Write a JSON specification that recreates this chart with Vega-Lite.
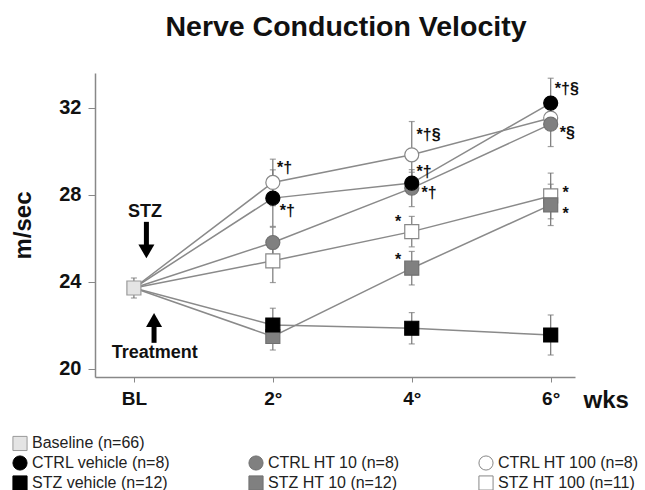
{
  "$schema": "https://vega.github.io/schema/vega-lite/v6.json",
  "autosize": "none",
  "width": 480,
  "height": 304,
  "padding": {"left": 95, "top": 73, "right": 70, "bottom": 113},
  "background": "white",
  "config": {
    "font": "Liberation Sans",
    "view": {"stroke": null}
  },
  "title": {
    "text": "Nerve Conduction Velocity",
    "font": "Liberation Sans",
    "fontSize": 28.5,
    "fontWeight": "bold",
    "color": "#111",
    "anchor": "middle",
    "dx": 11,
    "baseline": "bottom",
    "offset": 3
  },
  "datasets": {
    "pts": [
      {"group": "CTRL HT 100 (n=8)", "wk": 0, "v": 23.72},
      {"group": "CTRL HT 100 (n=8)", "wk": 2, "v": 28.57, "lo": 27.5, "hi": 29.64},
      {"group": "CTRL HT 100 (n=8)", "wk": 4, "v": 29.84, "lo": 28.31, "hi": 31.37},
      {"group": "CTRL HT 100 (n=8)", "wk": 6, "v": 31.53, "lo": 31.03, "hi": 32.03},
      {"group": "STZ HT 100 (n=11)", "wk": 0, "v": 23.72},
      {"group": "STZ HT 100 (n=11)", "wk": 2, "v": 24.97, "lo": 23.97, "hi": 25.97},
      {"group": "STZ HT 100 (n=11)", "wk": 4, "v": 26.31, "lo": 25.61, "hi": 27.01},
      {"group": "STZ HT 100 (n=11)", "wk": 6, "v": 27.95, "lo": 26.9, "hi": 29.0},
      {"group": "CTRL HT 10 (n=8)", "wk": 0, "v": 23.72},
      {"group": "CTRL HT 10 (n=8)", "wk": 2, "v": 25.81, "lo": 25.11, "hi": 26.51},
      {"group": "CTRL HT 10 (n=8)", "wk": 4, "v": 28.31, "lo": 27.46, "hi": 29.16},
      {"group": "CTRL HT 10 (n=8)", "wk": 6, "v": 31.25, "lo": 30.22, "hi": 32.28},
      {"group": "STZ HT 10 (n=12)", "wk": 0, "v": 23.72},
      {"group": "STZ HT 10 (n=12)", "wk": 2, "v": 21.49, "lo": 20.87, "hi": 22.11},
      {"group": "STZ HT 10 (n=12)", "wk": 4, "v": 24.63, "lo": 23.86, "hi": 25.4},
      {"group": "STZ HT 10 (n=12)", "wk": 6, "v": 27.54, "lo": 26.59, "hi": 28.49},
      {"group": "CTRL vehicle (n=8)", "wk": 0, "v": 23.72},
      {"group": "CTRL vehicle (n=8)", "wk": 2, "v": 27.85, "lo": 26.55, "hi": 29.15},
      {"group": "CTRL vehicle (n=8)", "wk": 4, "v": 28.54, "lo": 28.04, "hi": 29.04},
      {"group": "CTRL vehicle (n=8)", "wk": 6, "v": 32.22, "lo": 31.08, "hi": 33.36},
      {"group": "STZ vehicle (n=12)", "wk": 0, "v": 23.72},
      {"group": "STZ vehicle (n=12)", "wk": 2, "v": 22.02, "lo": 21.25, "hi": 22.79},
      {"group": "STZ vehicle (n=12)", "wk": 4, "v": 21.87, "lo": 21.15, "hi": 22.59},
      {"group": "STZ vehicle (n=12)", "wk": 6, "v": 21.56, "lo": 20.64, "hi": 22.48},
      {"group": "Baseline (n=66)", "wk": 0, "v": 23.72, "lo": 23.26, "hi": 24.18}
    ],
    "notes": [
      {"label": "*†", "wk": 2.06, "v": 29.24},
      {"label": "*†", "wk": 2.1, "v": 27.26},
      {"label": "*†§", "wk": 4.07, "v": 30.76},
      {"label": "*†", "wk": 4.07, "v": 29.06},
      {"label": "*†", "wk": 4.14, "v": 28.09},
      {"label": "*", "wk": 3.76, "v": 26.76},
      {"label": "*", "wk": 3.76, "v": 25.01},
      {"label": "*†§", "wk": 6.06, "v": 32.87},
      {"label": "*§", "wk": 6.13, "v": 30.85},
      {"label": "*", "wk": 6.17, "v": 28.09},
      {"label": "*", "wk": 6.17, "v": 27.13}
    ],
    "arrows": [
      {"name": "STZ", "dir": "down", "wk": 0.18, "v1": 26.76, "v2": 25.66, "head": 25.4, "tx": 0.16, "ty": 27.22},
      {"name": "Treatment", "dir": "up", "wk": 0.29, "v1": 21.2, "v2": 21.98, "head": 22.25, "tx": 0.3, "ty": 20.74}
    ]
  },
  "encoding": {
    "x": {
      "field": "wk", "type": "quantitative",
      "scale": {"domain": [-0.56, 6.35], "nice": false, "zero": false},
      "axis": {
        "values": [0, 2, 4, 6],
        "labelExpr": "datum.value == 0 ? 'BL' : datum.value + '°'",
        "labelFontSize": 19, "labelFontWeight": "bold", "labelColor": "#111",
        "labelFont": "Liberation Sans",
        "tickSize": 5, "tickColor": "#888", "domainColor": "#888", "domainWidth": 1.5,
        "labelPadding": 7, "grid": false,
        "title": "wks", "titleFontSize": 24, "titleFontWeight": "bold", "titleColor": "#111",
        "titleFont": "Liberation Sans",
        "titleX": 488, "titleY": 30, "titleAlign": "left", "titleBaseline": "alphabetic"
      }
    },
    "y": {
      "field": "v", "type": "quantitative",
      "scale": {"domain": [19.63, 33.6], "nice": false, "zero": false},
      "axis": {
        "values": [20, 24, 28, 32],
        "labelFontSize": 20, "labelFontWeight": "bold", "labelColor": "#111",
        "labelFont": "Liberation Sans",
        "tickSize": 7, "tickColor": "#888", "domainColor": "#888", "domainWidth": 1.5,
        "labelPadding": 7, "grid": false,
        "title": "m/sec", "titleFontSize": 24, "titleFontWeight": "bold", "titleColor": "#111",
        "titleFont": "Liberation Sans", "titlePadding": 23
      }
    }
  },
  "layer": [
    {
      "data": {"name": "pts"},
      "transform": [{"filter": "isValid(datum.lo)"}],
      "mark": {"type": "rule", "color": "#777", "strokeWidth": 1.2},
      "encoding": {"y": {"field": "lo", "type": "quantitative"}, "y2": {"field": "hi"}}
    },
    {
      "data": {"name": "pts"},
      "transform": [{"filter": "isValid(datum.lo)"}],
      "mark": {"type": "tick", "orient": "horizontal", "color": "#777", "size": 6, "thickness": 1.2},
      "encoding": {"y": {"field": "lo", "type": "quantitative"}}
    },
    {
      "data": {"name": "pts"},
      "transform": [{"filter": "isValid(datum.lo)"}],
      "mark": {"type": "tick", "orient": "horizontal", "color": "#777", "size": 6, "thickness": 1.2},
      "encoding": {"y": {"field": "hi", "type": "quantitative"}}
    },
    {
      "data": {"name": "pts"},
      "transform": [{"filter": "datum.group != 'Baseline (n=66)'"}],
      "mark": {"type": "line", "color": "#8a8a8a", "strokeWidth": 1.5},
      "encoding": {"detail": {"field": "group", "type": "nominal"}, "order": {"field": "wk", "type": "quantitative"}}
    },
    {
      "data": {"name": "pts"},
      "transform": [{"filter": "datum.wk != 0 || datum.group == 'Baseline (n=66)'"}],
      "mark": {"type": "point", "size": 196, "strokeWidth": 1.2, "opacity": 1, "filled": true},
      "encoding": {
        "shape": {
          "field": "group", "type": "nominal",
          "scale": {
            "domain": ["Baseline (n=66)", "CTRL vehicle (n=8)", "STZ vehicle (n=12)", " ", "CTRL HT 10 (n=8)", "STZ HT 10 (n=12)", "  ", "CTRL HT 100 (n=8)", "STZ HT 100 (n=11)"],
            "range": ["square", "circle", "square", "square", "circle", "square", "square", "circle", "square"]
          },
          "legend": {
            "orient": "none", "legendX": -83, "legendY": 362, "title": null, "columns": 3,
            "symbolSize": 200, "symbolStrokeWidth": 1, "labelFontSize": 16, "labelFont": "Liberation Sans",
            "labelColor": "#222", "rowPadding": 0, "columnPadding": 75, "labelOffset": 4, "padding": 0,
            "labelLimit": 300
          }
        },
        "fill": {
          "field": "group", "type": "nominal",
          "scale": {
            "domain": ["Baseline (n=66)", "CTRL vehicle (n=8)", "STZ vehicle (n=12)", " ", "CTRL HT 10 (n=8)", "STZ HT 10 (n=12)", "  ", "CTRL HT 100 (n=8)", "STZ HT 100 (n=11)"],
            "range": ["#e4e4e4", "#000000", "#000000", "transparent", "#808080", "#808080", "transparent", "#ffffff", "#ffffff"]
          },
          "legend": {
            "orient": "none", "legendX": -83, "legendY": 362, "title": null, "columns": 3,
            "symbolSize": 200, "symbolStrokeWidth": 1, "labelFontSize": 16, "labelFont": "Liberation Sans",
            "labelColor": "#222", "rowPadding": 0, "columnPadding": 75, "labelOffset": 4, "padding": 0,
            "labelLimit": 300
          }
        },
        "stroke": {
          "field": "group", "type": "nominal",
          "scale": {
            "domain": ["Baseline (n=66)", "CTRL vehicle (n=8)", "STZ vehicle (n=12)", " ", "CTRL HT 10 (n=8)", "STZ HT 10 (n=12)", "  ", "CTRL HT 100 (n=8)", "STZ HT 100 (n=11)"],
            "range": ["#999999", "#000000", "#000000", "transparent", "#707070", "#707070", "transparent", "#888888", "#888888"]
          },
          "legend": {
            "orient": "none", "legendX": -83, "legendY": 362, "title": null, "columns": 3,
            "symbolSize": 200, "symbolStrokeWidth": 1, "labelFontSize": 16, "labelFont": "Liberation Sans",
            "labelColor": "#222", "rowPadding": 0, "columnPadding": 75, "labelOffset": 4, "padding": 0,
            "labelLimit": 300
          }
        }
      }
    },
    {
      "data": {"name": "notes"},
      "mark": {"type": "text", "align": "left", "baseline": "middle", "fontSize": 16, "fontWeight": "bold", "color": "#111", "font": "Liberation Sans"},
      "encoding": {"text": {"field": "label", "type": "nominal"}}
    },
    {
      "data": {"name": "arrows"},
      "mark": {"type": "rule", "color": "#000", "strokeWidth": 5},
      "encoding": {"y": {"field": "v1", "type": "quantitative"}, "y2": {"field": "v2"}}
    },
    {
      "data": {"name": "arrows"},
      "transform": [{"filter": "datum.dir == 'down'"}],
      "mark": {"type": "point", "shape": "triangle-down", "size": 256, "filled": true, "color": "#000", "opacity": 1},
      "encoding": {"y": {"field": "head", "type": "quantitative"}}
    },
    {
      "data": {"name": "arrows"},
      "transform": [{"filter": "datum.dir == 'up'"}],
      "mark": {"type": "point", "shape": "triangle-up", "size": 256, "filled": true, "color": "#000", "opacity": 1},
      "encoding": {"y": {"field": "head", "type": "quantitative"}}
    },
    {
      "data": {"name": "arrows"},
      "mark": {"type": "text", "align": "center", "baseline": "middle", "fontSize": 18, "fontWeight": "bold", "color": "#111", "font": "Liberation Sans"},
      "encoding": {
        "x": {"field": "tx", "type": "quantitative"},
        "y": {"field": "ty", "type": "quantitative"},
        "text": {"field": "name", "type": "nominal"}
      }
    }
  ]
}
